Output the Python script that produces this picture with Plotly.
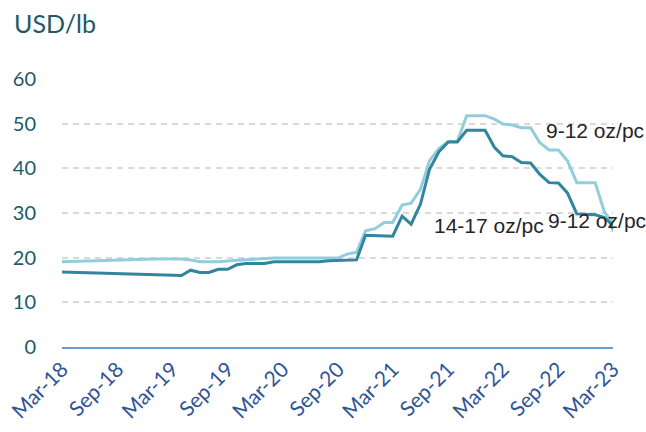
import plotly.graph_objects as go

# ---- data ----
light_dates = ["2018-03-01", "2019-01-01", "2019-04-01", "2019-05-01", "2019-06-01", "2019-08-01",
               "2019-10-01", "2020-01-01", "2020-02-01", "2020-09-01", "2020-10-01", "2020-11-01",
               "2020-12-01", "2021-01-01", "2021-02-01", "2021-03-01", "2021-04-01", "2021-05-01",
               "2021-06-01", "2021-07-01", "2021-08-01", "2021-09-01", "2021-10-01", "2021-11-01",
               "2021-12-01", "2022-01-01", "2022-02-01", "2022-03-01", "2022-04-01", "2022-05-01",
               "2022-06-01", "2022-07-01", "2022-08-01", "2022-09-01", "2022-10-01", "2022-11-01",
               "2022-12-01", "2023-01-01", "2023-02-01", "2023-02-24", "2023-03-01"]
light_values = [19.1, 19.7, 19.7, 19.5, 19.1, 19.1,
                19.4, 19.7, 19.9, 19.9, 20.8, 21.2,
                26.0, 26.5, 27.9, 27.9, 31.8, 32.2,
                35.3, 41.7, 44.4, 46.0, 46.0, 51.8,
                51.8, 51.8, 51.0, 49.9, 49.7, 49.1,
                49.1, 45.8, 44.1, 44.1, 41.7, 36.8,
                36.8, 36.8, 30.1, 28.3, 25.8]

dark_dates = ["2018-03-01", "2019-04-01", "2019-05-01", "2019-06-01", "2019-07-01", "2019-08-01",
              "2019-09-01", "2019-10-01", "2019-11-01", "2020-01-01", "2020-02-01", "2020-07-01",
              "2020-08-01", "2020-11-01", "2020-12-01", "2021-03-01", "2021-04-01", "2021-05-01",
              "2021-06-01", "2021-07-01", "2021-08-01", "2021-09-01", "2021-10-01", "2021-11-01",
              "2022-01-01", "2022-02-01", "2022-03-01", "2022-04-01", "2022-05-01", "2022-06-01",
              "2022-07-01", "2022-08-01", "2022-09-01", "2022-10-01", "2022-11-01", "2023-01-01",
              "2023-02-01", "2023-02-24", "2023-03-01"]
dark_values = [16.8, 16.0, 17.2, 16.7, 16.7, 17.4,
               17.4, 18.4, 18.7, 18.7, 19.1, 19.1,
               19.3, 19.5, 25.0, 24.8, 29.3, 27.5,
               32.0, 39.8, 43.7, 45.9, 45.9, 48.5,
               48.5, 44.7, 42.8, 42.6, 41.3, 41.2,
               38.7, 36.8, 36.7, 34.5, 29.8, 29.6,
               29.0, 27.5, 26.5]

tick_dates = ["2018-03-01", "2018-09-01", "2019-03-01", "2019-09-01", "2020-03-01", "2020-09-01",
              "2021-03-01", "2021-09-01", "2022-03-01", "2022-09-01", "2023-03-01"]
tick_labels = ["Mar-18", "Sep-18", "Mar-19", "Sep-19", "Mar-20", "Sep-20",
               "Mar-21", "Sep-21", "Mar-22", "Sep-22", "Mar-23"]
y_ticks = [0, 10, 20, 30, 40, 50, 60]

series_labels = ["9-12 oz/pc", "14-17 oz/pc", "9-12 oz/pc"]

LIGHT = "#92CDDC"
DARK = "#31859C"
TEAL_TXT = "#215968"
BLUE_TXT = "#2F5597"

fig = go.Figure()
fig.add_trace(go.Scatter(x=light_dates, y=light_values, mode="lines",
                         line=dict(color=LIGHT, width=3), name=series_labels[0],
                         showlegend=False))
fig.add_trace(go.Scatter(x=dark_dates, y=dark_values, mode="lines",
                         line=dict(color=DARK, width=3), name=series_labels[1],
                         showlegend=False))

fig.update_layout(
    width=646, height=432,
    margin=dict(l=62, r=33, t=79, b=85),
    plot_bgcolor="white", paper_bgcolor="white",
    font=dict(family="Lato, Open Sans, sans-serif"),
    xaxis=dict(
        type="date",
        range=["2018-03-01", "2023-03-01"],
        tickvals=tick_dates, ticktext=tick_labels,
        tickangle=-45,
        tickfont=dict(size=21, color=BLUE_TXT, family="Lato"),
        ticklabeloverflow="allow",
        showgrid=False, zeroline=False,
        showline=True, linecolor="#6A9BD1", linewidth=1.5,
        ticks="", automargin=False,
    ),
    yaxis=dict(
        range=[0, 60],
        tickvals=y_ticks,
        tickfont=dict(size=20, color=TEAL_TXT, family="Lato"),
        showgrid=True, gridcolor="#D9D9D9", gridwidth=2, griddash="6px,5px",
        zeroline=False, showline=False, ticks="",
        ticklabelstandoff=25, automargin=False,
    ),
)

# title "USD/lb"
fig.add_annotation(text="USD/lb", xref="paper", yref="paper", x=-0.09, y=1.21,
                   xanchor="left", yanchor="middle", showarrow=False,
                   font=dict(size=25, color=TEAL_TXT, family="Lato"))

# series labels
label_font = dict(size=21, color="#262626", family="Liberation Sans, Arial")
fig.add_annotation(text=series_labels[0], x="2023-01-01", y=48.4, xref="x", yref="y",
                   xanchor="center", yanchor="middle", showarrow=False, font=label_font)
fig.add_annotation(text=series_labels[1], x="2022-01-15", y=27.3, xref="x", yref="y",
                   xanchor="center", yanchor="middle", showarrow=False, font=label_font)
fig.add_annotation(text=series_labels[2], x="2023-01-08", y=28.4, xref="x", yref="y",
                   xanchor="center", yanchor="middle", showarrow=False, font=label_font)

fig.write_html("out.html", config={"displayModeBar": False},
               post_script="document.body.style.margin='0';document.body.style.overflow='hidden';")
